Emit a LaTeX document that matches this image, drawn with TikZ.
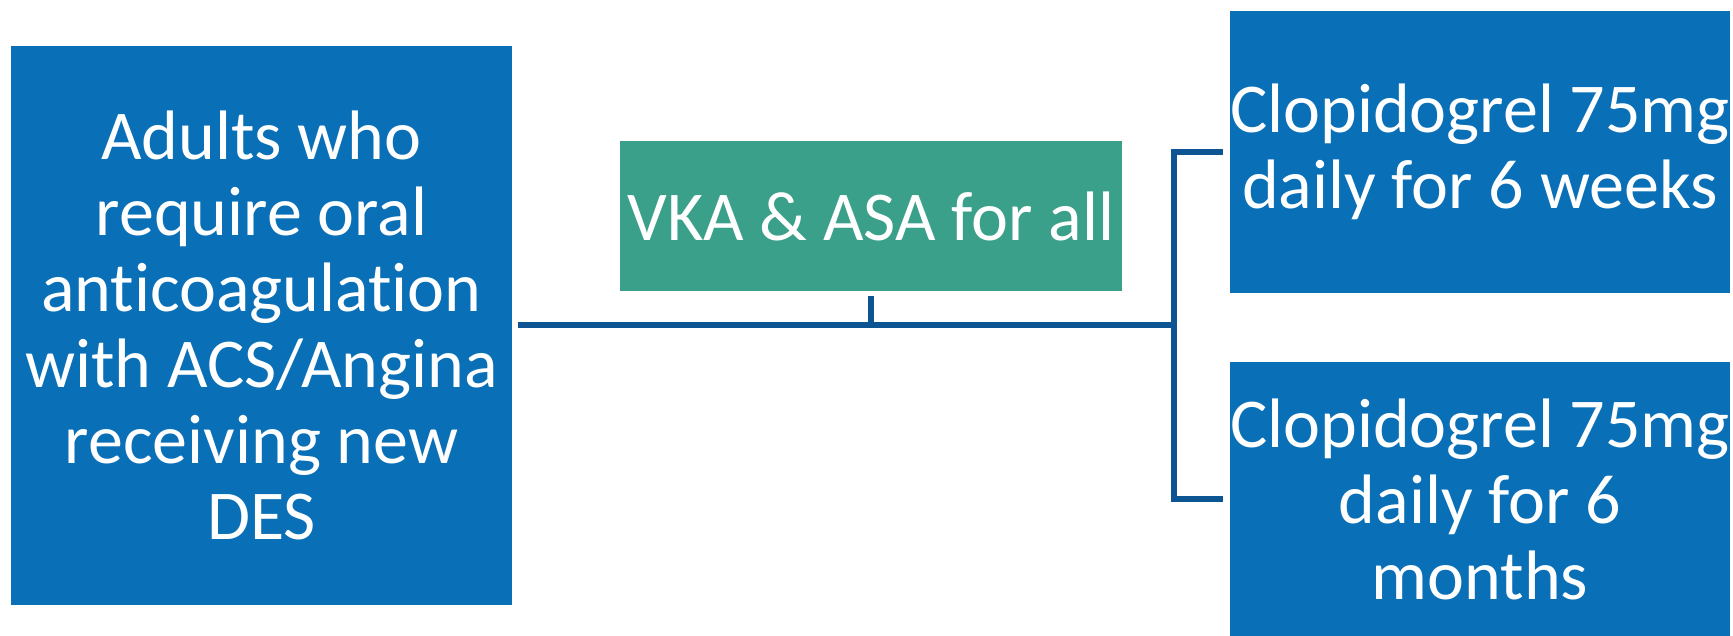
\documentclass[tikz,border=0pt]{standalone}
\usepackage{fontspec}
\setmainfont[Ligatures=NoCommon]{Carlito}
\definecolor{boxblue}{RGB}{9,111,183}
\definecolor{boxteal}{RGB}{59,160,138}
\definecolor{linkblue}{RGB}{12,84,146}
\begin{document}
\begin{tikzpicture}[x=1pt,y=1pt,
  box/.style={rectangle, inner sep=0pt, text=white, align=center,
    font=\fontsize{35}{38}\selectfont},
  bluebox/.style={box, fill=boxblue},
  tealbox/.style={box, fill=boxteal},
  conn/.style={draw=linkblue, line width=2.6pt}]
\useasboundingbox (0,0) rectangle (866.5,-318);
\node[bluebox, minimum width=250.5pt, minimum height=279.5pt] (left) at (130.75,-162.75)
  {Adults who\\require oral\\anticoagulation\\with ACS/Angina\\receiving new\\DES};
\node[tealbox, minimum width=251pt, minimum height=75pt] (mid) at (435.5,-108)
  {VKA \& ASA for all};
\node[bluebox, minimum width=250pt, minimum height=141pt] (tr) at (740,-76)
  {Clopidogrel 75mg\\daily for 6 weeks};
\node[bluebox, minimum width=250pt, minimum height=137pt] (br) at (740,-249.5)
  {Clopidogrel 75mg\\daily for 6\\months};
\coordinate (J) at (587,-162.5);
\draw[conn] ([xshift=3pt]left.east |- J) -- (J);
\draw[conn] ([yshift=-2.5pt]mid.south) -- (mid.south |- J);
\draw[conn] ([xshift=-3.5pt]tr.west) -- (tr.west -| J) -- (br.west -| J) -- ([xshift=-3.5pt]br.west);
\end{tikzpicture}
\end{document}
